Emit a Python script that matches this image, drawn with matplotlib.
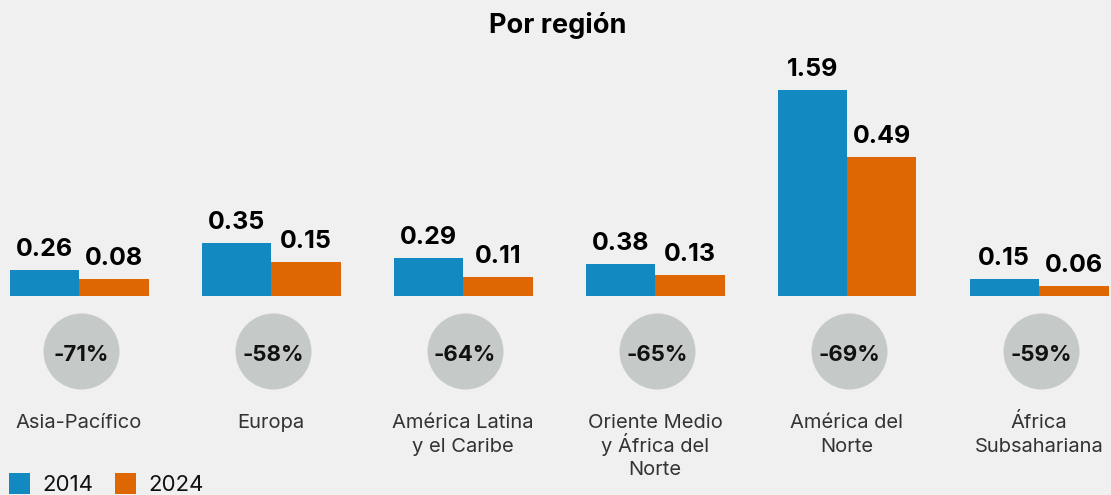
import matplotlib
matplotlib.use("Agg")
import matplotlib.pyplot as plt
from matplotlib.patches import Rectangle

# ---------------- data ----------------
regions = ["Asia-Pacífico", "Europa", "América Latina\ny el Caribe",
           "Oriente Medio\ny África del\nNorte", "América del\nNorte",
           "África\nSubsahariana"]
labels_2014 = ["0.26", "0.35", "0.29", "0.38", "1.59", "0.15"]
labels_2024 = ["0.08", "0.15", "0.11", "0.13", "0.49", "0.06"]
# bar heights as drawn in the reference (same unit scale as 1.59)
heights_2014 = [0.20, 0.41, 0.29, 0.25, 1.59, 0.13]
heights_2024 = [0.13, 0.26, 0.15, 0.16, 1.07, 0.08]
changes = ["-71%", "-58%", "-64%", "-65%", "-69%", "-59%"]
series_names = ["2014", "2024"]
title = "Por región"

# ---------------- style ----------------
BG = "#f0f0f0"
BLUE = "#1289c0"
ORANGE = "#de6704"
CIRCLE = "#c5c9c8"
FONT = ["Inter", "DejaVu Sans"]

W, H, DPI = 1111, 495, 100
fig = plt.figure(figsize=(W / DPI, H / DPI), dpi=DPI, facecolor=BG)
ax = fig.add_axes([0, 0, 1, 1])
ax.set_facecolor(BG)
ax.axis("off")

group_px = 192.0       # pixel distance between groups
first_px = 79.0        # pixel x of first group centre
base_px = 296.0        # baseline pixel y (from top)
scale = 206.0 / 1.59   # pixels per unit

ax.set_xlim(-first_px / group_px, (W - first_px) / group_px)
ax.set_ylim(-(H - base_px) / scale, base_px / scale)

def py(pix_from_top):
    return (base_px - pix_from_top) / scale

bw = 69.5 / group_px
x = list(range(len(regions)))

ax.bar([i - bw / 2 for i in x], heights_2014, width=bw, color=BLUE, linewidth=0)
ax.bar([i + bw / 2 for i in x], heights_2024, width=bw, color=ORANGE, linewidth=0)

gap = 14.0 / scale
for i in x:
    ax.text(i - bw / 2, heights_2014[i] + gap, labels_2014[i], ha="center",
            va="baseline", fontsize=18, fontweight="bold", family=FONT,
            color="#000000")
    ax.text(i + bw / 2, heights_2024[i] + gap, labels_2024[i], ha="center",
            va="baseline", fontsize=18, fontweight="bold", family=FONT,
            color="#000000")

# circles with percent change
diam_pt = 76 * 72 / DPI
ax.scatter([i + 2 / group_px for i in x], [py(351)] * len(x), s=diam_pt ** 2,
           color=CIRCLE, linewidths=0, zorder=2)
for i in x:
    ax.text(i + 2 / group_px, py(361), changes[i], ha="center", va="baseline",
            fontsize=16, fontweight="bold", family=FONT, color="#111111",
            zorder=3)

# category labels (each line placed on its own baseline)
for i in x:
    for k, line in enumerate(regions[i].split("\n")):
        ax.text(i, py(428 + 23.5 * k), line, ha="center", va="baseline",
                fontsize=14.5, family=FONT, color="#333333")

# title
fig.text(558 / W, 1 - 33 / H, title, ha="center", va="baseline",
         fontsize=19.5, fontweight="bold", family=FONT, color="#000000")

# legend
def fx(p):
    return p / W

def fy(p):
    return 1 - p / H

for (x0, name, col, tx) in [(9, series_names[0], BLUE, 42),
                            (115, series_names[1], ORANGE, 148)]:
    fig.patches.append(Rectangle((fx(x0), fy(494)), 21 / W, 21 / H,
                                 transform=fig.transFigure, color=col,
                                 linewidth=0))
    fig.text(fx(tx), fy(491), name, ha="left", va="baseline", fontsize=16,
             family=FONT, color="#111111")

fig.savefig("out.png", dpi=DPI, facecolor=BG)
